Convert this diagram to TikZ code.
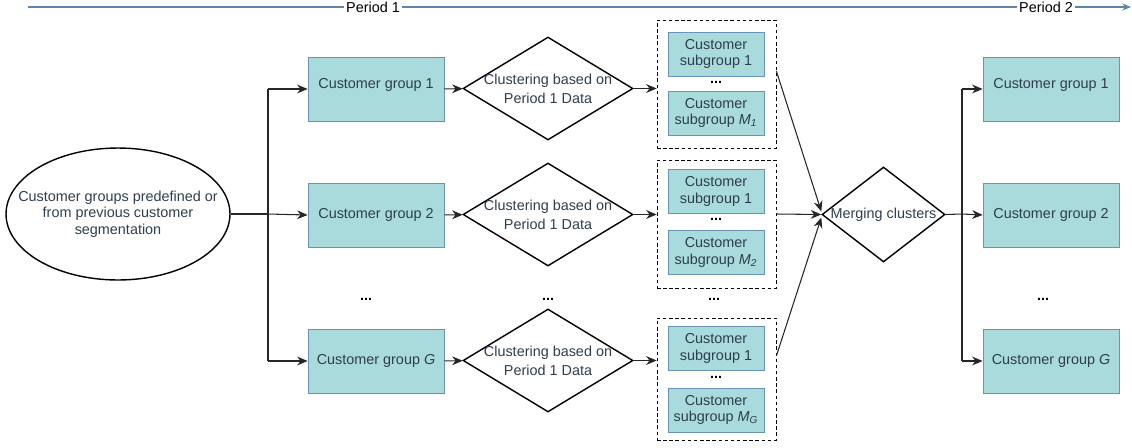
\documentclass[tikz,border=0pt]{standalone}
\usepackage{fontspec}
\setmainfont{Liberation Sans}
\usetikzlibrary{shapes.geometric,arrows.meta}
\definecolor{grpfill}{HTML}{A9DADC}
\definecolor{grpline}{HTML}{6A93B8}
\definecolor{grptext}{HTML}{2E3E4E}
\definecolor{timeline}{HTML}{5F86A8}
\tikzset{
  every node/.style={font=\fontsize{8.2}{9.3}\selectfont, text=grptext},
  grp/.style={draw=grpline, fill=grpfill, minimum width=2.72cm, minimum height=1.28cm, inner sep=0pt, align=center},
  subgrp/.style={grp, minimum width=1.92cm, minimum height=0.88cm},
  clust/.style={diamond, draw, thick, minimum width=3.4cm, minimum height=2.06cm, inner sep=0pt},
  wrap/.style={draw, dash pattern=on 2pt off 1.5pt, minimum width=2.38cm, inner sep=0pt},
  lbl/.style={align=center},
  flow/.style={-{Stealth[length=6pt,width=5pt]}, semithick, black!85},
  link/.style={semithick, black!85},
  dots/.style={font=\fontsize{8.2}{9.3}\selectfont\bfseries, text=black},
}

\begin{document}
\begin{tikzpicture}[x=0.02cm,y=-0.02cm]
\useasboundingbox (0,0) rectangle (1132,447);
\coordinate (tstart) at (28,7);
\coordinate (tend) at (1131,7);
\node[text=black, inner xsep=1pt] (per1) at (373,7) {Period 1};
\node[text=black, inner xsep=1pt] (per2) at (1046,7) {Period 2};
\draw[timeline, semithick] (tstart) -- (per1) -- (per2);
\draw[timeline, semithick, -{Stealth[length=5pt,width=4pt]}] (per2) -- (tend);

\node[ellipse, draw, thick, minimum width=4.48cm, minimum height=2.64cm, inner sep=0pt,
  label={[lbl]center:Customer groups predefined or\\from previous customer\\segmentation}] (seg) at (118,214) {};

\node[grp] (g1) at (376,89) {Customer group 1\\[-3pt]};
\node[grp] (g2) at (376,215) {Customer group 2};
\node[grp] (gG) at (376,361) {Customer group \textit{G}};

\node[clust, label={[lbl]center:Clustering based on\\[1.5pt]Period 1 Data}] (d1) at (548,88.5) {};
\node[clust, label={[lbl]center:Clustering based on\\[1.5pt]Period 1 Data}] (d2) at (548,214.5) {};
\node[clust, label={[lbl]center:Clustering based on\\[1.5pt]Period 1 Data}] (dG) at (548,360.5) {};

\node[wrap, minimum height=2.56cm] (c1) at (716.5,84) {};
\node[wrap, minimum height=2.56cm] (c2) at (716.5,224) {};
\node[wrap, minimum height=2.44cm] (cG) at (716.5,379) {};

\node[subgrp] (s11) at (716,54) {Customer\\subgroup 1};
\node[dots] (e1) at (716,82) {...};
\node[subgrp] (s1M) at (716,113) {Customer\\subgroup \textit{M}\textsubscript{\textit{1}}};
\node[subgrp] (s21) at (716,191.5) {Customer\\subgroup 1};
\node[dots] (e2) at (716,219) {...};
\node[subgrp] (s2M) at (716,252.5) {Customer\\subgroup \textit{M}\textsubscript{\textit{2}}};
\node[subgrp] (sG1) at (716,348.5) {Customer\\subgroup 1};
\node[dots] (eG) at (716,377) {...};
\node[subgrp] (sGM) at (716,410) {Customer\\subgroup \textit{M}\textsubscript{\textit{G}}};

\node[diamond, draw, thick, minimum width=2.46cm, minimum height=1.9cm, inner sep=0pt,
  label={[lbl]center:Merging clusters}] (merge) at (883.5,214.5) {};

\node[grp] (r1) at (1051,89) {Customer group 1\\[-3pt]};
\node[grp] (r2) at (1051,215) {Customer group 2};
\node[grp] (rG) at (1051,361) {Customer group \textit{G}};

\node[dots] (dotsg) at (366,299) {...};
\node[dots] (dotsd) at (548,299) {...};
\node[dots] (dotsc) at (714,299) {...};
\node[dots] (dotsr) at (1043,299) {...};

\coordinate (split) at (268,214);
\coordinate (join) at (962,214);
\draw[link] (seg.east) -- (split);
\draw[link] (split |- g1.west) -- (split |- gG.west);
\draw[flow] (split |- g1.west) -- (g1.west);
\draw[flow] (split) -- (g2.west);
\draw[flow] (split |- gG.west) -- (gG.west);

\draw[flow] (g1) -- (d1);
\draw[flow] (g2) -- (d2);
\draw[flow] (gG) -- (dG);
\draw[flow] (d1.east) -- (d1.east -| c1.west);
\draw[flow] (d2.east) -- (d2.east -| c2.west);
\draw[flow] (dG.east) -- (dG.east -| cG.west);

\draw[flow] ([yshift=0.26cm]c1.east) -- ([yshift=0.06cm]merge.west);
\draw[flow] ([yshift=0.2cm]c2.east) -- (merge.west);
\draw[flow] ([yshift=0.46cm]cG.east) -- ([yshift=-0.06cm]merge.west);

\draw[link] (merge.east) -- (join);
\draw[link] (join |- r1.west) -- (join |- rG.west);
\draw[flow] (join |- r1.west) -- (r1.west);
\draw[flow] (join) -- (r2.west);
\draw[flow] (join |- rG.west) -- (rG.west);
\end{tikzpicture}
\end{document}
